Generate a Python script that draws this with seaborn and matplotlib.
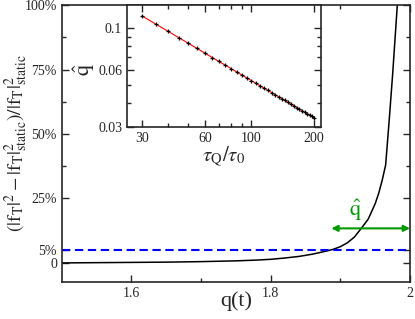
import matplotlib
matplotlib.use("Agg")
import matplotlib.pyplot as plt
import seaborn as sns

# main curve
q_t = [1.50, 1.55, 1.60, 1.65, 1.70, 1.75, 1.78, 1.80, 1.82, 1.84, 1.86, 1.88,
       1.89, 1.90, 1.91, 1.92, 1.93, 1.94, 1.95, 1.955, 1.96, 1.965, 1.97,
       1.975, 1.98, 1.985]
rel_diff = [0.000, 0.001, 0.002, 0.003, 0.005, 0.008, 0.011, 0.014, 0.019,
            0.025, 0.034, 0.046, 0.053, 0.063, 0.078, 0.100, 0.134, 0.170,
            0.230, 0.270, 0.320, 0.380, 0.550, 0.730, 0.930, 1.130]

# inset: q-hat vs tau_Q/tau_0
tau = [30, 35, 40, 45, 50, 55, 60, 65, 70, 75, 80, 85, 90, 95, 100, 105, 110,
       115, 120, 125, 130, 135, 140, 145, 150, 155, 160, 165, 170, 175, 180,
       185, 190, 195, 200]
qhat = [0.1157, 0.1046, 0.0959, 0.0888, 0.0829, 0.0779, 0.0736, 0.0698,
        0.0665, 0.0636, 0.0610, 0.0586, 0.0565, 0.0545, 0.0527, 0.0511,
        0.0495, 0.0481, 0.0468, 0.0456, 0.0444, 0.0433, 0.0423, 0.0414,
        0.0404, 0.0396, 0.0388, 0.0380, 0.0373, 0.0366, 0.0359, 0.0353,
        0.0347, 0.0341, 0.0335]

y_ticks = [0, 0.05, 0.25, 0.5, 0.75, 1.0]
y_labels = ["0", "5%", "25%", "50%", "75%", "100%"]
x_ticks = [1.6, 1.8, 2.0]
x_labels = ["1.6", "1.8", "2"]
threshold = 0.05

sns.set_style("ticks")
plt.rcParams["font.family"] = ["Liberation Serif", "DejaVu Serif"]
plt.rcParams["mathtext.fontset"] = "stix"
plt.rcParams["xtick.direction"] = "in"
plt.rcParams["ytick.direction"] = "in"

fig = plt.figure(figsize=(4.15, 3.19), dpi=100)
ax = fig.add_axes([0.149, 0.116, 0.839, 0.868])

sns.lineplot(x=q_t, y=rel_diff, color="black", lw=1.1, ax=ax, sort=False)
ax.axhline(threshold, color="#0000ff", lw=1.5, dashes=(4, 2.2))

ax.annotate("", xy=(2.0, 0.134), xytext=(1.887, 0.134),
            arrowprops=dict(arrowstyle="<|-|>", color="#009900", lw=1.5,
                            mutation_scale=9, shrinkA=0, shrinkB=0))
ax.text(1.921, 0.205, r"$\hat{\mathrm{q}}$", color="#009900", fontsize=16,
        ha="center", va="center")

ax.set_xlim(1.5, 2.0)
ax.set_ylim(-0.074, 1.0)
ax.set_xticks(x_ticks)
ax.set_xticklabels(x_labels)
ax.set_xticks([1.7, 1.9], minor=True)
ax.set_yticks(y_ticks)
ax.set_yticklabels(y_labels)
ax.set_yticks([0.375, 0.625, 0.875], minor=True)
ax.tick_params(which="both", top=True, right=True, labelsize=10, width=1)
ax.tick_params(which="major", length=5)
ax.tick_params(which="minor", length=3)
for s in ax.spines.values():
    s.set_linewidth(1.2)
    s.set_visible(True)

ax.set_xlabel("q(t)", fontsize=16)
ax.xaxis.set_label_coords(0.5, -0.035)
ax.set_ylabel(r"$(|\mathrm{f}_\mathrm{T}|^2 - |\mathrm{f}_\mathrm{T}|^2_{\mathrm{static}})/|\mathrm{f}_\mathrm{T}|^2_{\mathrm{static}}$",
              fontsize=14)
ax.yaxis.set_label_coords(-0.092, 0.5)

# inset
ins = fig.add_axes([0.306, 0.602, 0.467, 0.382])
sns.lineplot(x=tau, y=qhat, color="red", lw=0.8, ax=ins)
sns.scatterplot(x=tau, y=qhat, color="black", marker="+", s=12,
                linewidth=0.9, ax=ins, zorder=3)
ins.set_xscale("log")
ins.set_yscale("log")
ins.set_xlim(25.4, 215)
ins.set_ylim(0.03, 0.132)
ins.set_xticks([30, 60, 100, 200])
ins.set_xticklabels(["30", "60", "100", "200"])
ins.set_xticks([40, 50, 70, 80, 90], minor=True)
ins.set_xticklabels([], minor=True)
ins.set_yticks([0.03, 0.06, 0.1])
ins.set_yticklabels(["0.03", "0.06", "0.1"])
ins.set_yticks([0.04, 0.05, 0.07, 0.08, 0.09], minor=True)
ins.set_yticklabels([], minor=True)
ins.tick_params(which="both", top=True, right=True, labelsize=10, width=1)
ins.tick_params(which="major", length=5)
ins.tick_params(which="minor", length=3)
for s in ins.spines.values():
    s.set_linewidth(1.2)
    s.set_visible(True)
ins.set_xlabel(r"$\tau_\mathrm{Q}/\tau_0$", fontsize=15, labelpad=0)
ins.set_ylabel(r"$\hat{\mathrm{q}}$", fontsize=16)
ins.yaxis.set_label_coords(-0.155, 0.47)

fig.savefig("out.png", dpi=100)
